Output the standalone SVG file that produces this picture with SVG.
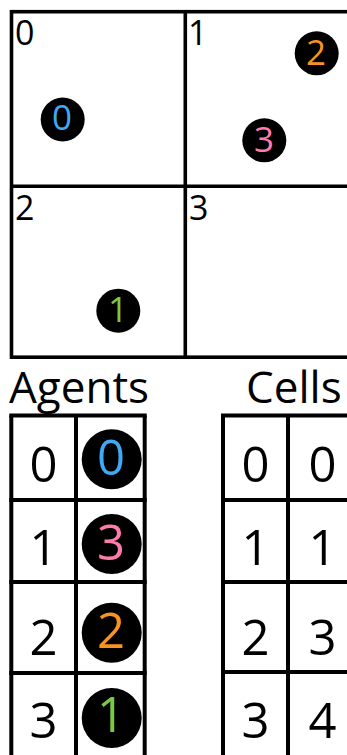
<svg xmlns="http://www.w3.org/2000/svg" width="347" height="755" viewBox="0 0 347 755">
  <style>
    .grid { fill: none; stroke: #000; stroke-width: 3.6; }
    .tbl { fill: none; stroke: #000; stroke-width: 4; }
    .lbl { font-family: "Open Sans", "Noto Sans", sans-serif; font-size: 34px; fill: #000; }
    .big { font-family: "Open Sans", "Noto Sans", sans-serif; font-size: 49px; fill: #000; text-anchor: middle; }
    .title { font-family: "Open Sans", "Noto Sans", sans-serif; font-size: 44px; fill: #000; }
    .dot { fill: #000; }
    .ad { font-family: "Open Sans", "Noto Sans", sans-serif; font-size: 35px; text-anchor: middle; }
    .ad2 { font-family: "Open Sans", "Noto Sans", sans-serif; font-size: 49px; text-anchor: middle; }
    .blue { fill: #3fa9f5; }
    .pink { fill: #ff7bac; }
    .orange { fill: #f7931e; }
    .green { fill: #7ac943; }
  </style>

  <!-- Spatial grid -->
  <g id="grid">
    <rect class="grid" x="11.5" y="11.7" width="360" height="345.5"/>
    <line class="grid" x1="185.3" y1="11.7" x2="185.3" y2="357.2"/>
    <line class="grid" x1="11.5" y1="186.3" x2="371.5" y2="186.3"/>
  </g>
  <g id="cell-0"><text class="lbl" x="15" y="45">0</text></g>
  <g id="cell-1"><text class="lbl" x="188" y="45">1</text></g>
  <g id="cell-2"><text class="lbl" x="15" y="220">2</text></g>
  <g id="cell-3"><text class="lbl" x="189" y="220">3</text></g>

  <g id="agent-0">
    <circle class="dot" cx="62.7" cy="119.5" r="22"/>
    <text class="ad blue" x="62" y="130">0</text>
  </g>
  <g id="agent-2">
    <circle class="dot" cx="316.7" cy="53.3" r="22"/>
    <text class="ad orange" x="316" y="65">2</text>
  </g>
  <g id="agent-3">
    <circle class="dot" cx="264.3" cy="140.3" r="22"/>
    <text class="ad pink" x="264" y="151.7">3</text>
  </g>
  <g id="agent-1">
    <circle class="dot" cx="118.3" cy="310.7" r="22"/>
    <text class="ad green" x="118" y="321.7">1</text>
  </g>

  <!-- Agents table -->
  <g id="agents-table">
    <text class="title" x="9" y="403.3">Agents</text>
    <line class="tbl" x1="11.3" y1="415.5" x2="11.3" y2="760"/>
    <line class="tbl" x1="76" y1="415.5" x2="76" y2="760"/>
    <line class="tbl" x1="144.7" y1="415.5" x2="144.7" y2="760"/>
    <line class="tbl" x1="9.3" y1="415.5" x2="146.7" y2="415.5"/>
    <line class="tbl" x1="9.3" y1="500" x2="146.7" y2="500"/>
    <line class="tbl" x1="9.3" y1="582" x2="146.7" y2="582"/>
    <line class="tbl" x1="9.3" y1="673" x2="146.7" y2="673"/>
    <text class="big" x="43.5" y="481.7">0</text>
    <text class="big" x="43.5" y="565">1</text>
    <text class="big" x="43.5" y="655">2</text>
    <text class="big" x="43.5" y="738.3">3</text>
  </g>
  <g id="agents-entry-0">
    <circle class="dot" cx="111.7" cy="459.3" r="30"/>
    <text class="ad2 blue" x="111" y="475">0</text>
  </g>
  <g id="agents-entry-1">
    <circle class="dot" cx="111.7" cy="544" r="30"/>
    <text class="ad2 pink" x="111" y="560">3</text>
  </g>
  <g id="agents-entry-2">
    <circle class="dot" cx="111.7" cy="632.7" r="30"/>
    <text class="ad2 orange" x="111" y="648.3">2</text>
  </g>
  <g id="agents-entry-3">
    <circle class="dot" cx="111.7" cy="718" r="30"/>
    <text class="ad2 green" x="111" y="731.7">1</text>
  </g>

  <!-- Cells table -->
  <g id="cells-table">
    <text class="title" x="246" y="403.3">Cells</text>
    <line class="tbl" x1="223" y1="415.5" x2="223" y2="760"/>
    <line class="tbl" x1="288" y1="415.5" x2="288" y2="760"/>
    <line class="tbl" x1="353" y1="415.5" x2="353" y2="760"/>
    <line class="tbl" x1="221" y1="415.5" x2="355" y2="415.5"/>
    <line class="tbl" x1="221" y1="500" x2="355" y2="500"/>
    <line class="tbl" x1="221" y1="582" x2="355" y2="582"/>
    <line class="tbl" x1="221" y1="672" x2="355" y2="672"/>
    <text class="big" x="255.5" y="481.7">0</text>
    <text class="big" x="255.5" y="565">1</text>
    <text class="big" x="255.5" y="655">2</text>
    <text class="big" x="255.5" y="738.3">3</text>
    <text class="big" x="322.5" y="481.7">0</text>
    <text class="big" x="322.5" y="565">1</text>
    <text class="big" x="322.5" y="655">3</text>
    <text class="big" x="322.5" y="738.3">4</text>
  </g>
</svg>
